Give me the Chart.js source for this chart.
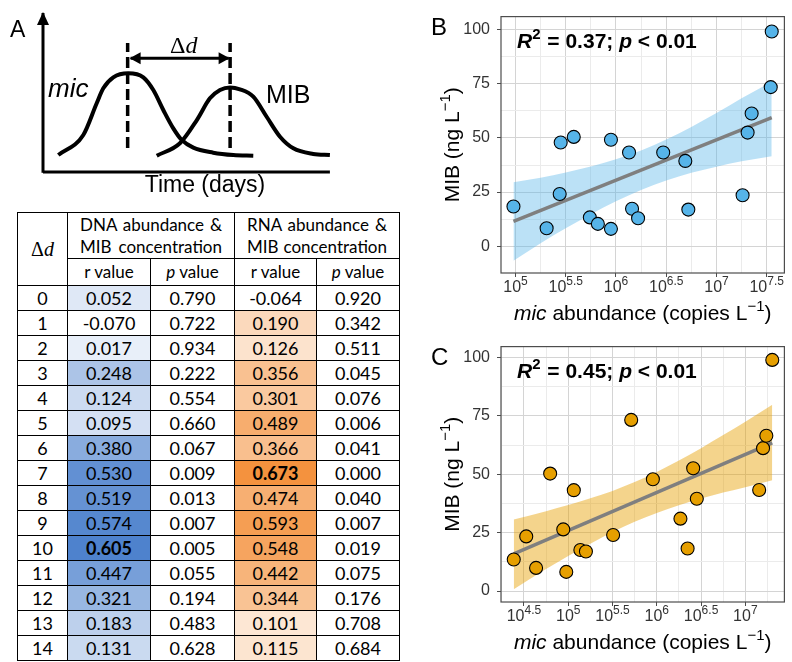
<!DOCTYPE html>
<html>
<head>
<meta charset="utf-8">
<script src="https://cdn.jsdelivr.net/npm/chart.js@4.4.0/dist/chart.umd.min.js"></script>
<style>
html,body{margin:0;padding:0;background:#fff;}
#fig{position:relative;width:792px;height:662px;overflow:hidden;background:#fff;}
canvas{position:absolute;}
#cA{left:0;top:0;width:400px;height:205px;}
#cB{left:420px;top:0;width:372px;height:330px;}
#cC{left:420px;top:330px;width:372px;height:332px;}
#tbl{position:absolute;left:17px;top:212px;border-collapse:collapse;table-layout:fixed;
  font-family:Lato,"Noto Sans",sans-serif;font-size:18px;color:#000;}
#tbl td,#tbl th{border:1px solid #000;padding:0;text-align:center;font-weight:normal;vertical-align:middle;line-height:20px;white-space:nowrap;overflow:hidden;}
#tbl th{font-size:17px;}
#tbl th.grp{text-align:justify;text-align-last:justify;padding:0 12px 0 12px;line-height:22px;}
#tbl tr.h1{height:46px;}
#tbl tr.h2{height:27px;}
#tbl tr.d{height:25px;}
#tbl th.dd{font-family:"Liberation Serif","DejaVu Serif",serif;font-size:20px;}
</style>
</head>
<body>
<div id="fig">
<canvas id="cA" width="400" height="205"></canvas>
<table id="tbl"></table>
<canvas id="cB" width="372" height="330"></canvas>
<canvas id="cC" width="372" height="332"></canvas>
</div>
<script>
// ---------------- DATA ----------------
// Panel A schematic (arbitrary time / level units)
const micTime  = [0.515,1.357,1.808,2.03,2.367,2.872,3.377,3.714,4.05,4.387,4.67,5.06,5.73,6.41,7.08];
const micLevel = [0.108,0.236,0.438,0.533,0.603,0.629,0.603,0.522,0.395,0.278,0.204,0.155,0.123,0.108,0.104];
const mibTime  = [3.83,4.61,5.18,5.62,5.96,6.30,6.63,7.08,7.53,7.98,8.43,9.10,9.66];
const mibLevel = [0.104,0.183,0.331,0.469,0.522,0.539,0.527,0.480,0.352,0.225,0.151,0.115,0.108];
const peakTimes = [2.85, 6.30];
const peakLineLevels = [0.153, 0.822];
const lagArrowTime = [2.95, 6.25];
const lagArrowLevel = 0.724;
const axisEnd = {time: 9.66, level: 1.013};

// Table
const deltaD = [0,1,2,3,4,5,6,7,8,9,10,11,12,13,14];
const dnaR = ['0.052','-0.070','0.017','0.248','0.124','0.095','0.380','0.530','0.519','0.574','0.605','0.447','0.321','0.183','0.131'];
const dnaP = ['0.790','0.722','0.934','0.222','0.554','0.660','0.067','0.009','0.013','0.007','0.005','0.055','0.194','0.483','0.628'];
const rnaR = ['-0.064','0.190','0.126','0.356','0.301','0.489','0.366','0.673','0.474','0.593','0.548','0.442','0.344','0.101','0.115'];
const rnaP = ['0.920','0.342','0.511','0.045','0.076','0.006','0.041','0.000','0.040','0.007','0.019','0.075','0.176','0.708','0.684'];

// Shared y ticks
const yTickValues = [0, 25, 50, 75, 100];

// Panel B (DNA)
const bMicLog = [4.98,5.31,5.44,5.45,5.58,5.74,5.82,5.95,5.95,6.13,6.16,6.22,6.47,6.69,6.72,7.26,7.31,7.35,7.54,7.55];
const bMib    = [18.3,8.3,24.1,47.9,50.5,13.3,10.3,49.2,8.0,43.3,17.3,12.9,43.3,39.4,16.9,23.5,52.5,61.3,73.5,99.2];
const bFitX = [4.98, 7.55];
const bFitY = [11.5, 59.4];
const bBandX  = [4.98,5.25,5.5,5.75,6.0,6.25,6.5,6.75,7.0,7.25,7.55];
const bBandHi = [29.5,31.6,34.1,36.8,40.2,44.2,49.3,55.1,61.5,68.4,76.0];
const bBandLo = [-6.7,1.4,8.3,14.8,20.8,26.0,30.3,33.9,36.7,39.2,41.6];
const bXTicks = [5,5.5,6,6.5,7,7.5];
const bStat = ['0.37','0.01'];

// Panel C (RNA)
const cMicLog = [4.385,4.526,4.637,4.796,4.944,4.978,5.063,5.137,5.2,5.507,5.711,5.956,6.267,6.348,6.411,6.452,7.156,7.2,7.237,7.304];
const cMib    = [13.5,23.4,9.9,50.3,26.4,8.2,43.2,17.6,16.9,24.0,73.3,47.9,31.0,18.2,52.6,39.5,43.3,61.2,66.5,99.0];
const cFitX = [4.385, 7.304];
const cFitY = [15.9, 63.5];
const cBandX  = [4.385,4.75,5.0,5.25,5.5,5.75,6.0,6.25,6.5,6.75,7.0,7.304];
const cBandHi = [30.6,34.2,36.8,39.7,42.9,46.7,51.0,55.9,61.2,66.8,72.5,79.8];
const cBandLo = [0.8,9.4,15.0,20.3,25.3,29.7,33.4,36.7,39.6,42.2,44.5,47.4];
const cXTicks = [4.5,5,5.5,6,6.5,7];
const cStat = ['0.45','0.01'];

// ---------------- HELPERS ----------------
const SANS = '"Liberation Sans", Arial, Helvetica, sans-serif';
function drawRich(ctx, segs, x, y, o) {
  const size = o.size, fam = o.family || SANS, w8 = o.weight || 'normal';
  const fontFor = s => `${s.italic ? 'italic ' : ''}${w8 === 'bold' ? 'bold ' : ''}${s.sup ? Math.round(size * 0.7) : size}px ${fam}`;
  ctx.save();
  ctx.translate(x, y);
  if (o.rotate) ctx.rotate(o.rotate);
  const widths = segs.map(s => { ctx.font = fontFor(s); return ctx.measureText(s.t).width + (s.kern || 0); });
  const total = widths.reduce((a, b) => a + b, 0);
  let cx = o.align === 'center' ? -total / 2 : (o.align === 'right' ? -total : 0);
  ctx.fillStyle = o.color || '#000';
  ctx.textBaseline = 'alphabetic';
  ctx.textAlign = 'left';
  segs.forEach((s, i) => {
    ctx.font = fontFor(s);
    ctx.fillText(s.t, cx, s.sup ? -size * 0.42 : 0);
    cx += widths[i];
  });
  ctx.restore();
}
const pts = (xs, ys) => xs.map((x, i) => ({x, y: ys[i]}));
const near = (v, arr) => arr.some(m => Math.abs(m - v) < 1e-6);

// ---------------- TABLE ----------------
function shade(v, vals, rgb) {
  const nums = vals.map(Number);
  const mn = Math.min(...nums), mx = Math.max(...nums);
  const f = (Number(v) - mn) / (mx - mn);
  const c = rgb.map(k => Math.round(255 - f * (255 - k)));
  return `rgb(${c.join(',')})`;
}
(function buildTable(){
  const dnaMax = Math.max(...dnaR.map(Number)), rnaMax = Math.max(...rnaR.map(Number));
  let h = '<colgroup><col style="width:50px"><col style="width:83px"><col style="width:84px"><col style="width:82px"><col style="width:83px"></colgroup>';
  h += '<tr class="h1"><th rowspan="2" class="dd">&Delta;<i>d</i></th>' +
       '<th colspan="2" class="grp">DNA abundance &amp;<br>MIB concentration</th>' +
       '<th colspan="2" class="grp">RNA abundance &amp;<br>MIB concentration</th></tr>';
  h += '<tr class="h2"><th>r value</th><th><i>p</i> value</th><th>r value</th><th><i>p</i> value</th></tr>';
  deltaD.forEach((d, i) => {
    const bd = Number(dnaR[i]) === dnaMax ? 'font-weight:bold;' : '';
    const br = Number(rnaR[i]) === rnaMax ? 'font-weight:bold;' : '';
    h += `<tr class="d"><td>${d}</td>` +
         `<td style="background:${shade(dnaR[i], dnaR, [78,130,205])};${bd}">${dnaR[i]}</td>` +
         `<td>${dnaP[i]}</td>` +
         `<td style="background:${shade(rnaR[i], rnaR, [244,146,62])};${br}">${rnaR[i]}</td>` +
         `<td>${rnaP[i]}</td></tr>`;
  });
  document.getElementById('tbl').innerHTML = h;
})();

// ---------------- PANEL A (schematic) ----------------
const arrowPlugin = {
  id: 'arrowHeads',
  afterDatasetsDraw(chart) {
    const ctx = chart.ctx;
    chart.data.datasets.forEach((ds, i) => {
      if (!ds.arrows) return;
      const el = chart.getDatasetMeta(i).data;
      const head = (tip, from) => {
        const ang = Math.atan2(tip.y - from.y, tip.x - from.x);
        ctx.save();
        ctx.translate(tip.x, tip.y);
        ctx.rotate(ang);
        ctx.beginPath();
        ctx.moveTo(1, 0);
        ctx.lineTo(-ds.arrowLen, -ds.arrowW / 2);
        ctx.lineTo(-ds.arrowLen, ds.arrowW / 2);
        ctx.closePath();
        ctx.fillStyle = '#000';
        ctx.fill();
        ctx.restore();
      };
      if (ds.arrows.includes('end')) head(el[el.length - 1], el[el.length - 2]);
      if (ds.arrows.includes('start')) head(el[0], el[1]);
    });
  }
};
const schematicText = {
  id: 'schematicText',
  afterDraw(chart) {
    const ctx = chart.ctx;
    drawRich(ctx, [{t: 'A'}], 10, 37, {size: 23});
    drawRich(ctx, [{t: 'mic', italic: true}], 48, 97, {size: 26});
    drawRich(ctx, [{t: 'MIB'}], 266, 103, {size: 25});
    drawRich(ctx, [{t: '\u0394'}, {t: 'd', italic: true}], 170, 53, {size: 24, family: '"Liberation Serif","DejaVu Serif",serif'});
    drawRich(ctx, [{t: 'Time (days)'}], 205, 192, {size: 23, align: 'center'});
  }
};
const lineDs = (data, extra) => Object.assign({data, showLine: true, pointRadius: 0, borderColor: '#000',
  backgroundColor: '#000', fill: false, clip: false, borderCapStyle: 'butt'}, extra);

new Chart(document.getElementById('cA'), {
  type: 'scatter',
  data: {datasets: [
    lineDs(pts(micTime, micLevel), {label: 'mic', borderWidth: 4, cubicInterpolationMode: 'monotone'}),
    lineDs(pts(mibTime, mibLevel), {label: 'MIB', borderWidth: 4, cubicInterpolationMode: 'monotone'}),
    lineDs(pts([peakTimes[0], peakTimes[0]], peakLineLevels), {label: 'peak mic', borderWidth: 3.5, borderDash: [11, 5]}),
    lineDs(pts([peakTimes[1], peakTimes[1]], peakLineLevels), {label: 'peak MIB', borderWidth: 3.5, borderDash: [11, 5]}),
    lineDs(pts(lagArrowTime, [lagArrowLevel, lagArrowLevel]), {label: 'lag', borderWidth: 3, arrows: ['start', 'end'], arrowLen: 10, arrowW: 12}),
    lineDs(pts([0, 0], [-0.005, axisEnd.level]), {label: 'y axis', borderWidth: 3, arrows: ['end'], arrowLen: 12, arrowW: 12}),
    lineDs(pts([0, axisEnd.time], [0, 0]), {label: 'x axis', borderWidth: 3})
  ]},
  options: {
    responsive: false, animation: false, devicePixelRatio: 1,
    layout: {padding: {left: 43, right: 60, top: 15, bottom: 33}},
    scales: {
      x: {type: 'linear', min: 0, max: 10, display: false},
      y: {type: 'linear', min: 0, max: 1, display: false}
    },
    plugins: {legend: {display: false}, tooltip: {enabled: false}}
  },
  plugins: [arrowPlugin, schematicText]
});

// ---------------- PANELS B & C ----------------
function makePanel(id, P) {
  const yMinor = [12.5, 37.5, 62.5, 87.5];
  const step = P.xTicks[1] - P.xTicks[0];
  const xMinor = [P.xTicks[0] - step / 2, ...P.xTicks.map(v => v + step / 2)].filter(v => v > P.xMin && v < P.xMax);
  const xAll = [...P.xTicks, ...xMinor].sort((a, b) => a - b);
  const yAll = [...yTickValues, ...yMinor].filter(v => v > P.yMin && v < P.yMax).sort((a, b) => a - b);
  const GMAJ = '#d4d4d4', GMIN = '#ebebeb', AX = '#4d4d4d';

  const deco = {
    id: 'deco' + id,
    afterDraw(chart) {
      const ctx = chart.ctx, a = chart.chartArea, xs = chart.scales.x;
      ctx.save();
      ctx.strokeStyle = AX; ctx.lineWidth = 1.2;
      ctx.strokeRect(a.left, a.top, a.right - a.left, a.bottom - a.top);
      ctx.restore();
      // x tick labels 10^k
      P.xTicks.forEach(v => {
        const px = xs.getPixelForValue(v);
        ctx.save();
        ctx.font = `16px ${SANS}`; const w1 = ctx.measureText('10').width;
        ctx.font = `12px ${SANS}`; const w2 = ctx.measureText(String(v)).width;
        const left = px - (w1 + w2) / 2;
        ctx.fillStyle = '#333'; ctx.textBaseline = 'alphabetic'; ctx.textAlign = 'left';
        ctx.font = `16px ${SANS}`; ctx.fillText('10', left, a.bottom + 19);
        ctx.font = `12px ${SANS}`; ctx.fillText(String(v), left + w1, a.bottom + 12);
        ctx.restore();
      });
      // axis titles
      drawRich(ctx, [{t: 'mic', italic: true}, {t: ' abundance (copies L'}, {t: '\u22121', sup: true}, {t: ')'}],
        (a.left + a.right) / 2, a.bottom + 47, {size: 21, align: 'center'});
      drawRich(ctx, [{t: 'MIB (ng L'}, {t: '\u22121', sup: true}, {t: ')'}],
        39, (a.top + a.bottom) / 2, {size: 21, align: 'center', rotate: -Math.PI / 2});
      // panel letter
      drawRich(ctx, [{t: P.letter}], 11, 35, {size: 24});
      // stats annotation
      drawRich(ctx, [{t: 'R', italic: true}, {t: '2', sup: true, kern: 1}, {t: ' = ' + P.stat[0] + '; '}, {t: 'p', italic: true}, {t: ' < ' + P.stat[1]}],
        a.left + 16, 48, {size: 21, weight: 'bold'});
    }
  };

  new Chart(document.getElementById(id), {
    type: 'scatter',
    data: {datasets: [
      {label: 'samples', data: pts(P.x, P.y), pointRadius: 6.5, pointHoverRadius: 6.5,
        pointBackgroundColor: P.color, pointBorderColor: '#000', pointBorderWidth: 1.1, order: 0},
      {label: 'fit', data: pts(P.fitX, P.fitY), showLine: true, borderColor: '#7f7f7f', borderWidth: 3.5,
        pointRadius: 0, fill: false, order: 1},
      {label: 'CI upper', data: pts(P.bandX, P.bandHi), showLine: true, borderWidth: 0, borderColor: 'rgba(0,0,0,0)',
        pointRadius: 0, fill: '+1', backgroundColor: P.band, cubicInterpolationMode: 'monotone', order: 2},
      {label: 'CI lower', data: pts(P.bandX, P.bandLo), showLine: true, borderWidth: 0, borderColor: 'rgba(0,0,0,0)',
        pointRadius: 0, fill: false, cubicInterpolationMode: 'monotone', order: 3}
    ]},
    options: {
      responsive: false, animation: false, devicePixelRatio: 1,
      layout: {padding: {left: 0, right: 3, top: 15, bottom: 0}},
      scales: {
        x: {type: 'linear', min: P.xMin, max: P.xMax,
          afterBuildTicks: s => { s.ticks = xAll.map(v => ({value: v})); },
          afterFit: s => { s.height = P.xAxisH; },
          ticks: {display: false, autoSkip: false},
          border: {display: false},
          grid: {lineWidth: 1, tickLength: 4, drawTicks: true,
            color: c => (c.tick && near(c.tick.value, P.xTicks)) ? GMAJ : GMIN,
            tickColor: c => (c.tick && near(c.tick.value, P.xTicks)) ? AX : 'rgba(0,0,0,0)'}
        },
        y: {type: 'linear', min: P.yMin, max: P.yMax,
          afterBuildTicks: s => { s.ticks = yAll.map(v => ({value: v})); },
          afterFit: s => { s.width = 81; },
          ticks: {autoSkip: false, padding: 7, color: '#333', font: {family: SANS, size: 16},
            callback: v => near(v, yTickValues) ? String(v) : ''},
          border: {display: false},
          grid: {lineWidth: 1, tickLength: 4, drawTicks: true,
            color: c => (c.tick && near(c.tick.value, yTickValues)) ? GMAJ : GMIN,
            tickColor: c => (c.tick && near(c.tick.value, yTickValues)) ? AX : 'rgba(0,0,0,0)'}
        }
      },
      plugins: {legend: {display: false}, tooltip: {enabled: false}}
    },
    plugins: [deco]
  });
}

makePanel('cB', {letter: 'B', x: bMicLog, y: bMib, fitX: bFitX, fitY: bFitY, bandX: bBandX, bandHi: bBandHi, bandLo: bBandLo,
  xTicks: bXTicks, stat: bStat, xMin: 4.856, xMax: 7.676, yMin: -12.4, yMax: 106.1, xAxisH: 57,
  color: '#56B4E9', band: 'rgba(86,180,233,0.40)'});
makePanel('cC', {letter: 'C', x: cMicLog, y: cMib, fitX: cFitX, fitY: cFitY, bandX: cBandX, bandHi: cBandHi, bandLo: cBandLo,
  xTicks: cXTicks, stat: cStat, xMin: 4.241, xMax: 7.441, yMin: -4.7, yMax: 104.7, xAxisH: 60,
  color: '#E69F00', band: 'rgba(230,159,0,0.45)'});
</script>
</body>
</html>
